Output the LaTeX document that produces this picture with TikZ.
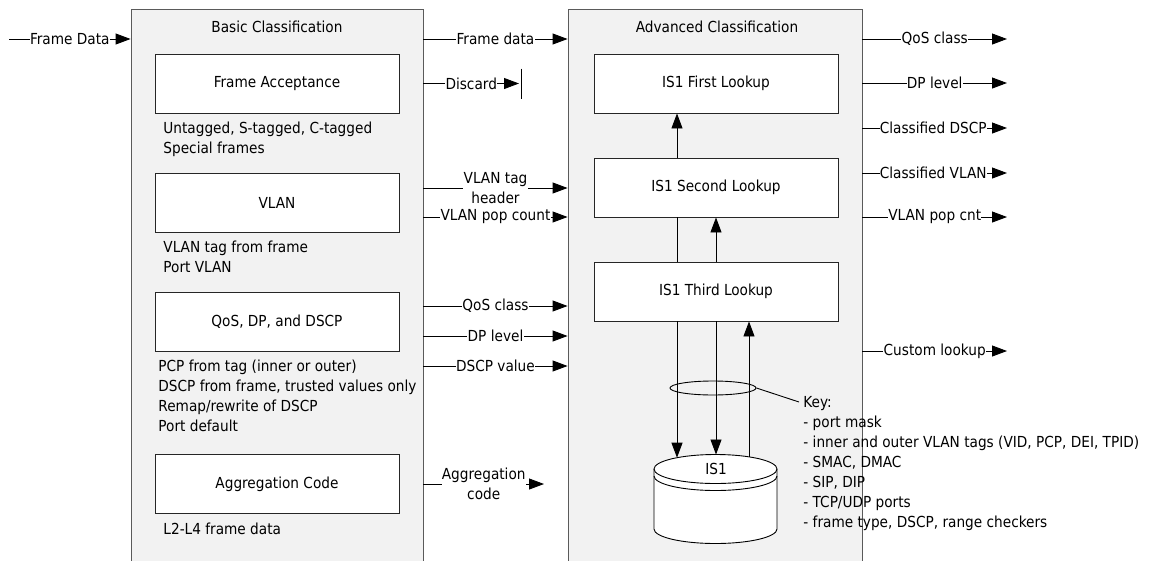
\documentclass[tikz,border=0pt]{standalone}
\usepackage{fontspec}
\setmainfont{DejaVu Sans Condensed}
\usepackage{xcolor}
\usepackage{tikz}
\usetikzlibrary{positioning}
\usetikzlibrary{arrows.meta}
\usetikzlibrary{shapes.geometric}

\definecolor{panelfill}{HTML}{F2F2F2}
\definecolor{panelline}{HTML}{5A5A5A}

\begin{document}
\begin{tikzpicture}[
	x=1pt,y=-1pt,
	line width=0.9pt,
	font=\fontsize{15.2}{20}\selectfont
]
\tikzset{
    mypanel/.style = {rectangle, draw=panelline, fill=panelfill, minimum width=292pt, minimum height=580pt, anchor=north, inner sep=0pt},
    mybox/.style = {rectangle, draw=black!85, fill=white, minimum width=244pt, minimum height=59pt, inner sep=0pt},
    mynote/.style = {align=left, anchor=base west, inner sep=0pt},
    mylabel/.style = {fill=white, inner sep=0.3pt, align=center},
    myarrow/.style = {-{Triangle[length=15pt,width=11pt]}}
}
\clip (0,0) rectangle (1159,560);
% panels
\node[mypanel] (basic) at (277,9) {};
\node[mypanel,minimum width=294pt] (advanced) at (715,9) {};
\node[] (basictitle) at (277,27) {Basic Classification};
\node[] (advancedtitle) at (717,27) {Advanced Classification};
% basic classification
\node[mybox] (accept) at (277,83.5) {Frame Acceptance};
\node[mybox] (vlan) at (277,202.5) {VLAN};
\node[mybox] (qos) at (277,321.5) {QoS, DP, and DSCP};
\node[mybox] (aggr) at (277,484) {Aggregation Code};
\node[mynote] (acceptnote) at (163,153) {Untagged, S-tagged, C-tagged\\Special frames};
\node[mynote] (vlannote) at (163,272) {VLAN tag from frame\\Port VLAN};
\node[mynote] (qosnote) at (158,431) {PCP from tag (inner or outer)\\DSCP from frame, trusted values only\\Remap/rewrite of DSCP\\Port default};
\node[mynote] (aggrnote) at (163,534) {L2-L4 frame data};
% advanced classification
\node[mybox] (first) at (716,83.5) {IS1 First Lookup};
\node[mybox] (second) at (716,187.5) {IS1 Second Lookup};
\node[mybox] (third) at (716,291.5) {IS1 Third Lookup};
\draw[fill=white] (654,469) -- (654,529) arc[start angle=180,end angle=360,x radius=61.5pt,y radius=14.5pt]
    -- (777,469) arc[start angle=0,end angle=180,x radius=61.5pt,y radius=14.5pt] -- cycle;
\draw (654,469) arc[start angle=180,end angle=360,x radius=61.5pt,y radius=14.5pt];
\draw (654,476) arc[start angle=180,end angle=360,x radius=61.5pt,y radius=14.5pt];
\node[] (isone) at (716,469) {IS1};
\coordinate (rimA) at (677,457.7);
\coordinate (rimB) at (716,454.5);
\coordinate (rimC) at (749,456.8);
\draw[myarrow] (second.north -| rimA) -- (first.south -| rimA);
\draw (third.north -| rimA) -- (second.south -| rimA);
\draw[myarrow] (third.north) -- (second.south);
\draw[myarrow] (third.south -| rimA) -- (rimA);
\draw[myarrow] (third.south -| rimB) -- (rimB);
\draw[myarrow] (rimC) -- (third.south -| rimC);
\node[ellipse,draw,minimum width=86pt,minimum height=14pt,inner sep=0pt] (keyring) at (713,388) {};
\coordinate (keytip) at (799,402);
\draw (keyring.east) -- (keytip);
\node[mynote] (keytext) at (803,527) {Key:\\- port mask\\- inner and outer VLAN tags (VID, PCP, DEI, TPID)\\- SMAC, DMAC\\- SIP, DIP\\- TCP/UDP ports\\- frame type, DSCP, range checkers};
% input
\coordinate (fdsrc) at (9,39);
\draw[myarrow] (fdsrc) -- node[mylabel]{Frame Data} (basic.west |- fdsrc);
% basic to advanced
\draw[myarrow] (basic.east |- 0,39) -- node[mylabel]{Frame data} (advanced.west |- 0,39);
\coordinate (discardend) at (521,83.5);
\draw[myarrow] (basic.east |- discardend) -- node[mylabel]{Discard} ([xshift=-2pt]discardend);
\draw ([yshift=15pt]discardend) -- ([yshift=-15pt]discardend);
\draw[myarrow] (basic.east |- 0,188) -- node[mylabel]{VLAN tag\\header} (advanced.west |- 0,188);
\draw[myarrow] (basic.east |- 0,217) -- node[mylabel]{VLAN pop count} (advanced.west |- 0,217);
\draw[myarrow] (basic.east |- 0,306) -- node[mylabel]{QoS class} (advanced.west |- 0,306);
\draw[myarrow] (basic.east |- 0,336) -- node[mylabel]{DP level} (advanced.west |- 0,336);
\draw[myarrow] (basic.east |- 0,366) -- node[mylabel]{DSCP value} (advanced.west |- 0,366);
\coordinate (aggrend) at (544,484);
\draw[myarrow] (basic.east |- aggrend) -- node[mylabel]{Aggregation\\code} (aggrend);
% outputs
\coordinate (qosout) at (1007,39);
\coordinate (dpout) at (1007,83);
\coordinate (dscpout) at (1007,128);
\coordinate (vlanout) at (1007,173);
\coordinate (popout) at (1007,217);
\coordinate (customout) at (1007,351);
\draw[myarrow] (advanced.east |- qosout) -- node[mylabel]{QoS class} (qosout);
\draw[myarrow] (advanced.east |- dpout) -- node[mylabel]{DP level} (dpout);
\draw[myarrow] (advanced.east |- dscpout) -- node[mylabel,xshift=-1.5pt]{Classified DSCP} (dscpout);
\draw[myarrow] (advanced.east |- vlanout) -- node[mylabel,xshift=-1.5pt]{Classified VLAN} (vlanout);
\draw[myarrow] (advanced.east |- popout) -- node[mylabel]{VLAN pop cnt} (popout);
\draw[myarrow] (advanced.east |- customout) -- node[mylabel]{Custom lookup} (customout);
\end{tikzpicture}
\end{document}
